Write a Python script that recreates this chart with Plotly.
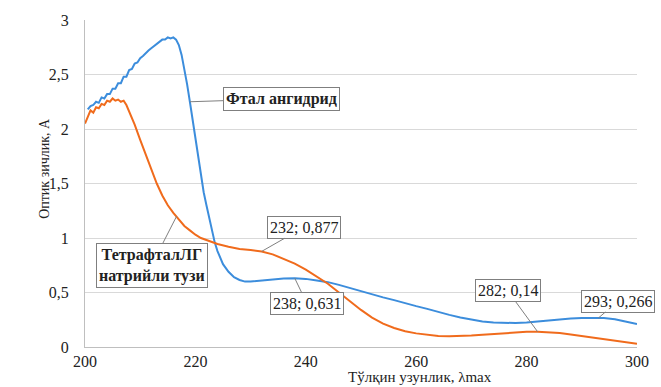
import plotly.graph_objects as go

# Фтал ангидрид (blue)
blue_x = [200.5, 201, 201.5, 202, 202.5, 203, 203.5, 204, 204.5, 205, 205.5, 206, 206.5, 207, 207.5,
          208, 208.5, 209, 209.5, 210, 210.5, 211, 211.5, 212, 212.5, 213, 213.5, 214, 214.5, 215,
          215.5, 216, 216.5, 217, 217.5, 218, 218.5, 219, 219.5, 220, 220.5, 221, 221.5, 222, 222.5,
          223, 223.5, 224, 225, 226, 227, 228, 229, 230, 232, 234, 236, 238, 240, 242, 244, 246, 248,
          250, 252, 254, 256, 258, 260, 262, 264, 266, 268, 270, 272, 274, 276, 278, 280, 282, 284,
          286, 288, 290, 292, 293, 294, 296, 298, 300]
blue_y = [2.18, 2.21, 2.22, 2.25, 2.24, 2.29, 2.28, 2.32, 2.32, 2.37, 2.37, 2.42, 2.42, 2.48, 2.48,
          2.54, 2.55, 2.60, 2.61, 2.65, 2.67, 2.70, 2.72, 2.74, 2.76, 2.78, 2.80, 2.82, 2.82, 2.84,
          2.83, 2.84, 2.82, 2.77, 2.68, 2.55, 2.41, 2.25, 2.08, 1.90, 1.72, 1.55, 1.42, 1.30, 1.18,
          1.06, 0.96, 0.88, 0.76, 0.69, 0.64, 0.615, 0.60, 0.60, 0.61, 0.62, 0.628, 0.631, 0.625, 0.61,
          0.595, 0.57, 0.54, 0.51, 0.48, 0.455, 0.43, 0.40, 0.375, 0.35, 0.32, 0.295, 0.27, 0.25, 0.235,
          0.225, 0.22, 0.22, 0.225, 0.235, 0.245, 0.255, 0.262, 0.266, 0.267, 0.266, 0.265, 0.255,
          0.235, 0.21]

# ТетрафталЛГ натрийли тузи (orange)
orange_x = [200, 200.5, 201, 201.5, 202, 202.5, 203, 203.5, 204, 204.5, 205, 205.5, 206, 206.5, 207,
            207.5, 208, 209, 210, 211, 212, 213, 214, 215, 216, 217, 218, 219, 220, 221, 222, 224,
            226, 228, 230, 232, 234, 236, 238, 240, 242, 244, 246, 248, 250, 252, 254, 256, 258, 260,
            262, 264, 266, 268, 270, 272, 274, 276, 278, 280, 282, 284, 286, 288, 290, 292, 294, 296,
            298, 300]
orange_y = [2.05, 2.12, 2.17, 2.15, 2.20, 2.19, 2.23, 2.22, 2.26, 2.25, 2.28, 2.26, 2.27, 2.25, 2.26,
            2.22, 2.16, 2.04, 1.90, 1.77, 1.63, 1.50, 1.39, 1.30, 1.23, 1.17, 1.11, 1.07, 1.03, 1.00,
            0.98, 0.945, 0.92, 0.90, 0.89, 0.877, 0.85, 0.81, 0.765, 0.71, 0.645, 0.58, 0.50, 0.42,
            0.34, 0.27, 0.215, 0.175, 0.145, 0.125, 0.11, 0.10, 0.098, 0.10, 0.105, 0.112, 0.12, 0.128,
            0.135, 0.139, 0.14, 0.137, 0.128, 0.115, 0.10, 0.085, 0.072, 0.06, 0.045, 0.03]

x_ticks = [200, 220, 240, 260, 280, 300]
y_ticks = [0, 0.5, 1, 1.5, 2, 2.5, 3]
y_tick_text = ["0", "0,5", "1", "1,5", "2", "2,5", "3"]

# callouts: (x, y, text, ax, ay, bold)
callouts = [
    (219, 2.25, "Фтал ангидрид", 92, -3, True),
    (216.6, 1.20, "ТетрафталЛГ<br>натрийли тузи", -25, 49, True),
    (232, 0.877, "232; 0,877", 42, -24, False),
    (238, 0.631, "238; 0,631", 12, 25, False),
    (282, 0.14, "282; 0,14", -30, -41, False),
    (293, 0.266, "293; 0,266", 20, -17, False),
]

FONT = "Liberation Serif"
BLUE = "#3c8ddc"
ORANGE = "#f06b1c"

fig = go.Figure()
fig.add_trace(go.Scatter(x=blue_x, y=blue_y, mode="lines", line=dict(color=BLUE, width=2),
                         name="Фтал ангидрид", showlegend=False))
fig.add_trace(go.Scatter(x=orange_x, y=orange_y, mode="lines", line=dict(color=ORANGE, width=2),
                         name="ТетрафталЛГ натрийли тузи", showlegend=False))

for (cx, cy, txt, ax, ay, bold) in callouts:
    fig.add_annotation(x=cx, y=cy, xref="x", yref="y", ax=ax, ay=ay,
                       text=("<b>%s</b>" % txt) if bold else txt,
                       showarrow=True, arrowhead=0, arrowwidth=1, arrowcolor="#7f7f7f",
                       bgcolor="white", bordercolor="#7f7f7f", borderwidth=1, borderpad=2,
                       font=dict(family=FONT, size=16, color="#222"))

fig.add_annotation(x=-0.092, y=0.547, xref="paper", yref="paper", text="Оптик зичлик, А",
                   textangle=-90, showarrow=False, font=dict(family=FONT, size=14, color="#222"))
fig.add_annotation(x=0.606, y=-0.093, xref="paper", yref="paper", text="Тўлқин узунлик, λmax",
                   showarrow=False, yanchor="middle", font=dict(family=FONT, size=15, color="#222"))

fig.update_layout(
    width=661, height=387,
    margin=dict(l=85, r=22, t=18, b=40),
    paper_bgcolor="white", plot_bgcolor="white",
    font=dict(family=FONT, size=16, color="#222"),
    xaxis=dict(range=[200, 300], tickvals=x_ticks, ticktext=[str(v) for v in x_ticks],
               showgrid=False, zeroline=False, showline=True, linecolor="#bfbfbf", linewidth=1,
               ticks="", ticklabelstandoff=0, tickfont=dict(family=FONT, size=16)),
    yaxis=dict(range=[0, 3], tickvals=y_ticks, ticktext=y_tick_text,
               showgrid=True, gridcolor="#d9d9d9", gridwidth=1, zeroline=False,
               showline=True, linecolor="#bfbfbf", linewidth=1, ticks="", ticklabelstandoff=12,
               tickfont=dict(family=FONT, size=16)),
)

fig.write_html("out.html")
